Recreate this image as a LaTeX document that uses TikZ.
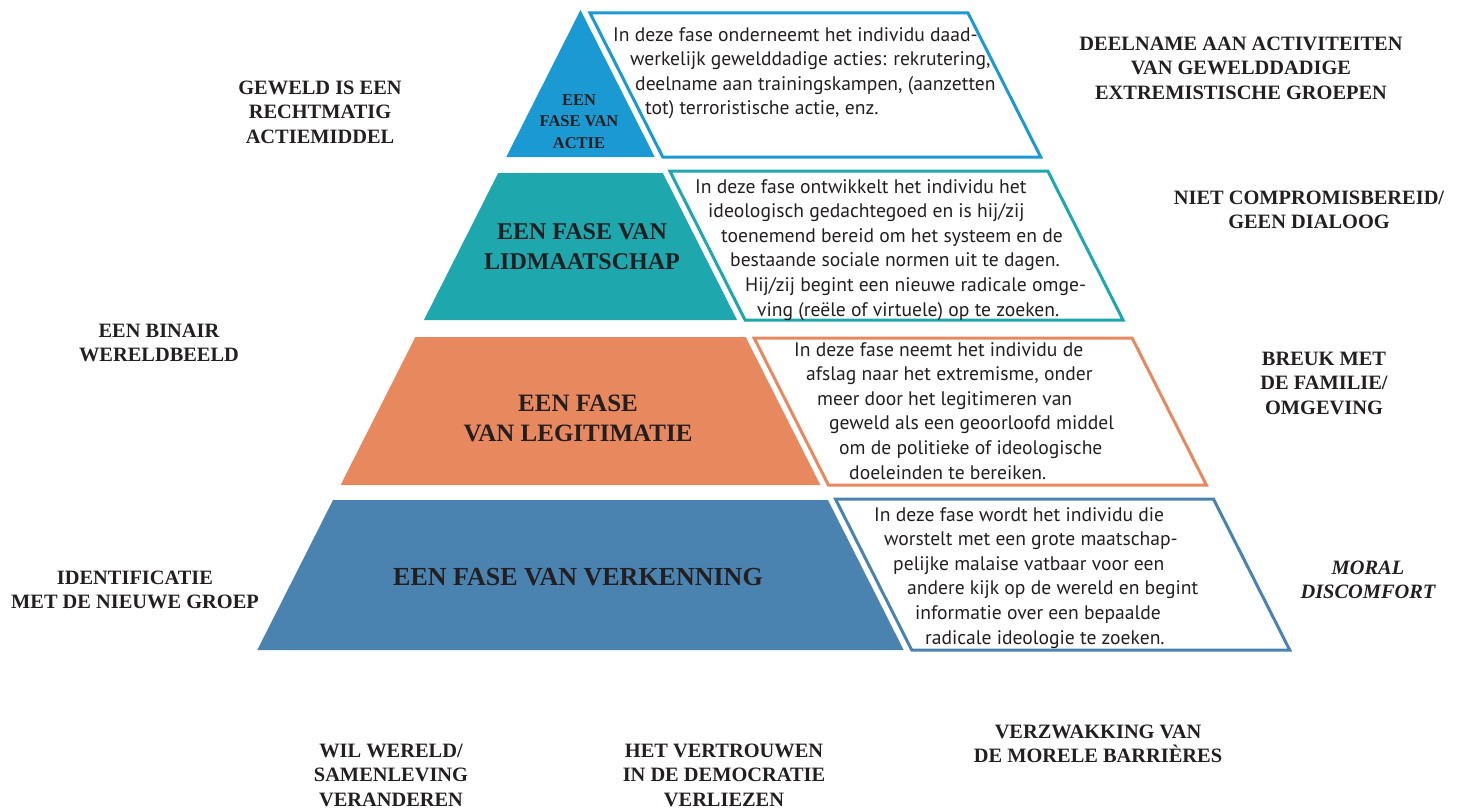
\documentclass[tikz,border=0pt]{standalone}
\usepackage{fontspec}
\setmainfont{Liberation Serif}
\newfontfamily\descfont{PT Sans}
\definecolor{actieblue}{HTML}{1B99D3}
\definecolor{lidteal}{HTML}{1EA7AD}
\definecolor{legitorange}{HTML}{E8885F}
\definecolor{verkblue}{HTML}{4A83AF}
\definecolor{textdark}{HTML}{231F20}

\begin{document}
\begin{tikzpicture}[x=1pt,y=-1pt,
    lbl/.style={font=\bfseries\fontsize{20.4}{24.5}\selectfont, text=textdark, align=center, inner sep=0pt},
    fase/.style={text=textdark, align=center, inner sep=0pt},
    desc/.style={font=\descfont\fontsize{19.6}{24.6}\selectfont, text=textdark, align=left, inner sep=0pt, anchor=north west}]
    \useasboundingbox (0,0) rectangle (1470,808);
    % pyramid bands: fill on the left, outlined frame on the right
    \foreach \t/\s/\b/\c in {10/13/157/actieblue, 173/171/320/lidteal, 337/338/485/legitorange, 500/499/650/verkblue} {
        \fill[\c] ({580.5-0.505*(\t-10)},\t) -- ({580.5+0.505*(\t-10)},\t) -- ({580.5+0.505*(\b-10)},\b) -- ({580.5-0.505*(\b-10)},\b) -- cycle;
        \draw[\c, line width=3pt] ({588.5+0.505*(\s-10)},\s) -- ({966.5+0.505*(\s-10)},\s) -- ({966.5+0.505*(\b-10)},\b) -- ({588.5+0.505*(\b-10)},\b) -- cycle;
    }
    % phase names
    \node[fase, font=\bfseries\fontsize{16.5}{21.5}\selectfont] (actie) at (579,121.5) {EEN\\FASE VAN\\ACTIE};
    \node[fase, font=\bfseries\fontsize{24}{30}\selectfont] (lidmaat) at (582,247) {EEN FASE VAN\\LIDMAATSCHAP};
    \node[fase, font=\bfseries\fontsize{25}{30}\selectfont] (legit) at (578,418) {EEN FASE\\VAN LEGITIMATIE};
    \node[fase, font=\bfseries\fontsize{26}{30}\selectfont] (verk) at (578,577) {EEN FASE VAN VERKENNING};
    % descriptions
    \node[desc] (dactie) at (613,27) {In deze fase onderneemt het individu daad-\\
        \hspace*{17pt}werkelijk gewelddadige acties: rekrutering,\\
        \hspace*{22pt}deelname aan trainingskampen, (aanzetten\\
        \hspace*{32pt}tot) terroristische actie, enz.};
    \node[desc] (dlid) at (695,179) {In deze fase ontwikkelt het individu het\\
        \hspace*{13pt}ideologisch gedachtegoed en is hij/zij\\
        \hspace*{26pt}toenemend bereid om het systeem en de\\
        \hspace*{35pt}bestaande sociale normen uit te dagen.\\
        \hspace*{50pt}Hij/zij begint een nieuwe radicale omge-\\
        \hspace*{62pt}ving (reële of virtuele) op te zoeken.};
    \node[desc] (dlegit) at (794,342) {In deze fase neemt het individu de\\
        \hspace*{12pt}afslag naar het extremisme, onder\\
        \hspace*{23pt}meer door het legitimeren van\\
        \hspace*{35pt}geweld als een geoorloofd middel\\
        \hspace*{45pt}om de politieke of ideologische\\
        \hspace*{55pt}doeleinden te bereiken.};
    \node[desc] (dverk) at (874,507) {In deze fase wordt het individu die\\
        \hspace*{10pt}worstelt met een grote maatschap-\\
        \hspace*{19pt}pelijke malaise vatbaar voor een\\
        \hspace*{33pt}andere kijk op de wereld en begint\\
        \hspace*{41pt}informatie over een bepaalde\\
        \hspace*{51pt}radicale ideologie te zoeken.};
    % side labels
    \node[lbl] (geweld) at (320,112) {GEWELD IS EEN\\RECHTMATIG\\ACTIEMIDDEL};
    \node[lbl] (binair) at (159,343) {EEN BINAIR\\WERELDBEELD};
    \node[lbl] (ident) at (135,590) {IDENTIFICATIE\\MET DE NIEUWE GROEP};
    \node[lbl] (deelname) at (1241,68) {DEELNAME AAN ACTIVITEITEN\\VAN GEWELDDADIGE\\EXTREMISTISCHE GROEPEN};
    \node[lbl] (niet) at (1309,210) {NIET COMPROMISBEREID/\\GEEN DIALOOG};
    \node[lbl] (breuk) at (1324,383) {BREUK MET\\DE FAMILIE/\\OMGEVING};
    \node[lbl, font=\bfseries\itshape\fontsize{20.4}{24}\selectfont] (moral) at (1368,580) {MORAL\\DISCOMFORT};
    % bottom labels
    \node[lbl] (wil) at (391,775) {WIL WERELD/\\SAMENLEVING\\VERANDEREN};
    \node[lbl] (vertrouwen) at (724,775) {HET VERTROUWEN\\IN DE DEMOCRATIE\\VERLIEZEN};
    \node[lbl] (verzwakking) at (1098,744) {VERZWAKKING VAN\\DE MORELE BARRIÈRES};
\end{tikzpicture}
\end{document}
